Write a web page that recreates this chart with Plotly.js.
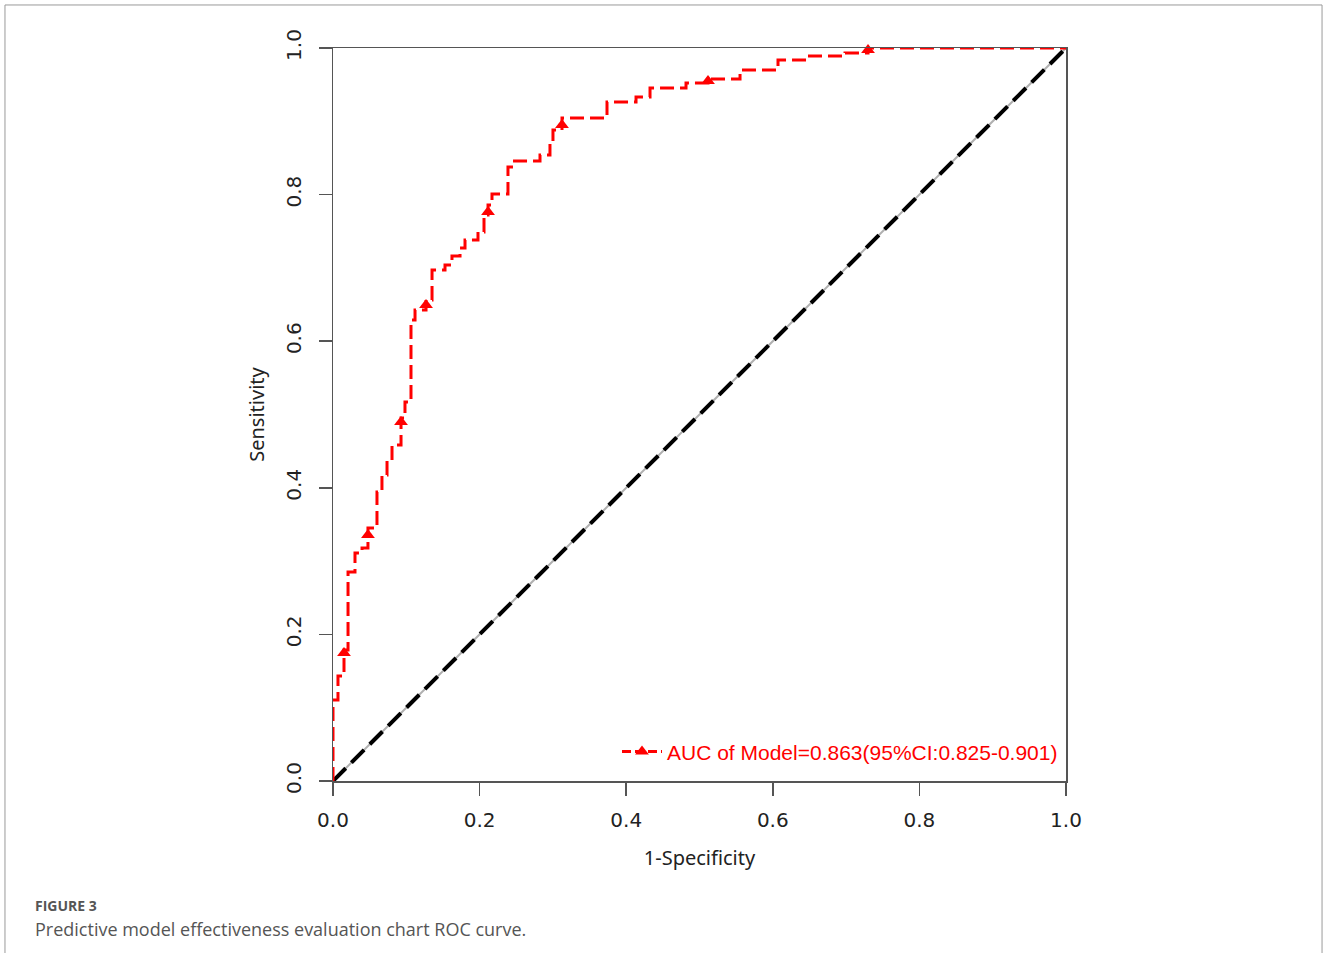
<!DOCTYPE html>
<html><head><meta charset="utf-8">
<script src="https://cdn.plot.ly/plotly-3.0.1.min.js"></script>
<style>html,body{margin:0;padding:0;background:#fff}#chart{width:1328px;height:953px}</style>
</head><body><div id="chart"></div>
<script>
// ROC curve vertices (1-specificity, sensitivity)
const fpr = [0, 0, 0.0068, 0.0068, 0.0150, 0.0150, 0.0205, 0.0205, 0.0300, 0.0300, 0.0396, 0.0396, 0.0477, 0.0477,
  0.0600, 0.0600, 0.0668, 0.0668, 0.0737, 0.0737, 0.0805, 0.0805, 0.0928, 0.0928, 0.0982, 0.0982, 0.1064, 0.1064,
  0.1119, 0.1119, 0.1269, 0.1269, 0.1351, 0.1351, 0.1528, 0.1528, 0.1623, 0.1623, 0.1733, 0.1733, 0.1801, 0.1801,
  0.1978, 0.1978, 0.2060, 0.2060, 0.2115, 0.2115, 0.2169, 0.2169, 0.2387, 0.2387, 0.2456, 0.2456, 0.2824, 0.2824,
  0.2960, 0.2960, 0.3001, 0.3001, 0.3124, 0.3124, 0.3738, 0.3738, 0.4134, 0.4134, 0.4325, 0.4325, 0.4816, 0.4816,
  0.5116, 0.5116, 0.5553, 0.5553, 0.6071, 0.6071, 0.6480, 0.6480, 0.6985, 0.6985, 0.7299, 0.7299, 1.0];
const tpr = [0, 0.1105, 0.1105, 0.1432, 0.1432, 0.1787, 0.1787, 0.2851, 0.2851, 0.3111, 0.3111, 0.3179, 0.3179, 0.3452,
  0.3452, 0.3943, 0.3943, 0.4175, 0.4175, 0.4379, 0.4379, 0.4584, 0.4584, 0.4952, 0.4952, 0.5171, 0.5171, 0.6289,
  0.6289, 0.6426, 0.6426, 0.6562, 0.6562, 0.6971, 0.6971, 0.7040, 0.7040, 0.7162, 0.7162, 0.7271, 0.7271, 0.7381,
  0.7381, 0.7490, 0.7490, 0.7722, 0.7722, 0.7858, 0.7858, 0.8008, 0.8008, 0.8377, 0.8377, 0.8458, 0.8458, 0.8540,
  0.8540, 0.8718, 0.8718, 0.8881, 0.8881, 0.9045, 0.9045, 0.9263, 0.9263, 0.9332, 0.9332, 0.9454, 0.9454, 0.9523,
  0.9523, 0.9577, 0.9577, 0.9700, 0.9700, 0.9836, 0.9836, 0.9891, 0.9891, 0.9932, 0.9932, 1.0, 1.0];
const markerFpr = [0.0150, 0.0477, 0.0928, 0.1269, 0.2115, 0.3124, 0.5116, 0.7299];
const markerTpr = [0.1746, 0.3356, 0.4898, 0.6494, 0.7763, 0.8950, 0.9550, 0.9973];
const diagX = [0, 1];
const diagY = [0, 1];
const tickVals = [0, 0.2, 0.4, 0.6, 0.8, 1.0];
const tickText = ['0.0', '0.2', '0.4', '0.6', '0.8', '1.0'];
const legendLabel = 'AUC of Model=0.863(95%CI:0.825-0.901)';
const xTitle = '1-Specificity';
const yTitle = 'Sensitivity';
const figLabel = 'FIGURE 3';
const caption = 'Predictive model effectiveness evaluation chart ROC curve.';

const RED = '#ff0000';
const traces = [
  {x: diagX, y: diagY, mode: 'lines', line: {color: '#b0b0b0', width: 2}, showlegend: false, hoverinfo: 'skip'},
  {x: diagX, y: diagY, mode: 'lines', line: {color: '#000', width: 4, dash: '18px,8px'}, showlegend: false, hoverinfo: 'skip'},
  {x: fpr, y: tpr, mode: 'lines', line: {color: RED, width: 3, dash: '14px,6px'}, showlegend: false, cliponaxis: false},
  {x: markerFpr, y: markerTpr, mode: 'markers', marker: {symbol: 'triangle-up', size: 12, color: RED}, showlegend: false, cliponaxis: false},
  {x: [null], y: [null], mode: 'lines+markers', name: legendLabel,
   line: {color: RED, width: 3, dash: '9px,4px'}, marker: {symbol: 'triangle-up', size: 12, color: RED}, showlegend: true}
];

const axisCommon = {
  range: [0, 1], tickvals: tickVals, ticktext: tickText, ticks: 'outside', ticklen: 13, tickwidth: 1.5,
  tickcolor: '#555', showline: true, linecolor: '#555', linewidth: 1.5, mirror: true, showgrid: false,
  zeroline: false, tickfont: {family: 'DejaVu Sans', size: 20, color: '#222'}, fixedrange: true
};

const layout = {
  width: 1328, height: 953,
  margin: {l: 333, r: 262, t: 48, b: 172},
  paper_bgcolor: '#fff', plot_bgcolor: '#fff',
  xaxis: Object.assign({}, axisCommon, {
    ticklabelstandoff: 7,
    title: {text: xTitle, font: {family: 'Noto Sans', size: 20, color: '#222'}, standoff: 20}
  }),
  yaxis: Object.assign({}, axisCommon, {
    tickangle: -90, ticklabelstandoff: 10,
    title: {text: yTitle, font: {family: 'Noto Sans', size: 20, color: '#222'}, standoff: 11}
  }),
  legend: {x: 0.9959, xanchor: 'right', y: 0.0396, yanchor: 'middle', bgcolor: 'rgba(0,0,0,0)',
    font: {family: 'Liberation Sans', size: 21, color: RED}, itemwidth: 40},
  shapes: [
    {type: 'path', xref: 'paper', yref: 'paper', path: 'M -0.4475 -0.24 L -0.4475 1.0587 L 1.3493 1.0587 L 1.3493 -0.24',
     line: {color: '#9a9a9a', width: 1}}
  ],
  annotations: [
    {xref: 'paper', yref: 'paper', x: -0.4093, y: -0.1705, xanchor: 'left', yanchor: 'middle', showarrow: false,
     text: '<b>' + figLabel + '</b>', font: {family: 'Open Sans', size: 14, color: '#555'}},
    {xref: 'paper', yref: 'paper', x: -0.4093, y: -0.2019, xanchor: 'left', yanchor: 'middle', showarrow: false,
     text: caption, font: {family: 'Open Sans', size: 18, color: '#555'}}
  ]
};

Plotly.newPlot('chart', traces, layout, {displayModeBar: false, staticPlot: true});
</script></body></html>
